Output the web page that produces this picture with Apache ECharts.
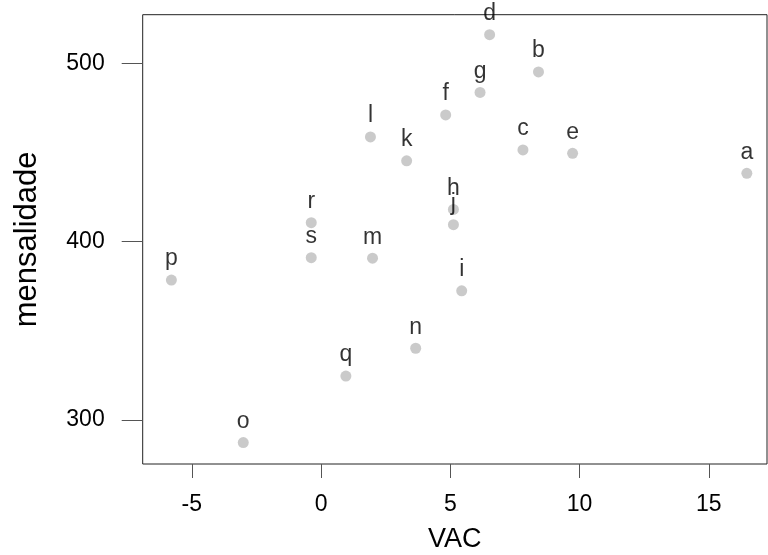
<!DOCTYPE html>
<html>
<head>
<meta charset="utf-8">
<script src="https://cdn.jsdelivr.net/npm/echarts@6/dist/echarts.min.js"></script>
<style>
html, body { margin: 0; padding: 0; background: #fff; }
#chart { width: 768px; height: 555px; }
</style>
</head>
<body>
<div id="chart"></div>
<script>
// rótulos dos pontos e valores
var labels = ['a','b','c','d','e','f','g','h','i','j','k','l','m','n','o','p','q','r','s'];
var vac = [16.47, 8.41, 7.81, 6.52, 9.73, 4.82, 6.15, 5.12, 5.44, 5.12, 3.31, 1.91, 1.99, 3.66, -3.01, -5.79, 0.96, -0.38, -0.38];
var mensalidade = [438.3, 495.1, 451.4, 516.0, 449.5, 471.0, 483.6, 418.0, 372.4, 409.5, 445.3, 458.7, 390.7, 340.2, 287.3, 378.4, 324.6, 410.6, 391.0];
var xTicks = [-5, 0, 5, 10, 15];
var yTicks = [300, 400, 500];

var font = "'Liberation Sans', Arial, sans-serif";

var myChart = echarts.init(document.getElementById('chart'));

var dados = [];
for (var i = 0; i < labels.length; i++) {
	dados.push({ name: labels[i], value: [vac[i], mensalidade[i]] });
}

var option = {
	animation: false,
	grid: {
		left: 142.7,
		right: 1,
		top: 14.7,
		bottom: 91,
		containLabel: false,
		outerBoundsMode: 'none',
		show: true,
		borderColor: '#222',
		borderWidth: 1
	},
	xAxis: {
		type: 'value',
		min: -6.9,
		max: 17.25,
		name: 'VAC',
		nameLocation: 'middle',
		nameGap: 62,
		nameTextStyle: { fontFamily: font, fontSize: 27, color: '#000' },
		axisLine: { show: false, onZero: false },
		splitLine: { show: false },
		axisTick: { show: true, customValues: xTicks, length: 14, lineStyle: { color: '#555' } },
		axisLabel: { customValues: xTicks, margin: 29, fontFamily: font, fontSize: 23, color: '#000' }
	},
	yAxis: {
		type: 'value',
		min: 275.3,
		max: 527.2,
		name: 'mensalidade',
		nameLocation: 'middle',
		nameGap: 100,
		nameTextStyle: { fontFamily: font, fontSize: 31, color: '#000' },
		axisLine: { show: false, onZero: false },
		splitLine: { show: false },
		axisTick: { show: true, customValues: yTicks, length: 21, lineStyle: { color: '#555' } },
		axisLabel: { customValues: yTicks, margin: 38, fontFamily: font, fontSize: 23, color: '#000' }
	},
	series: [{
		type: 'scatter',
		data: dados,
		symbol: 'circle',
		symbolSize: 11,
		itemStyle: { color: '#bdbdbd' },
		label: {
			show: true,
			position: 'top',
			distance: 4,
			formatter: '{b}',
			fontFamily: font,
			fontSize: 23,
			color: '#000'
		}
	}]
};
myChart.setOption(option);
</script>
</body>
</html>
